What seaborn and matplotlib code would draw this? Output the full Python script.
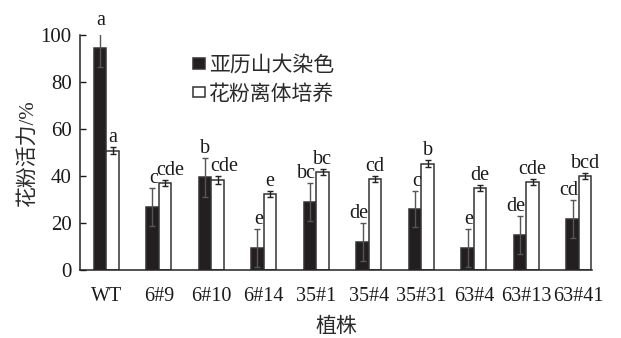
import numpy as np
import pandas as pd
import seaborn as sns
import matplotlib.pyplot as plt

# Pollen viability of wild type and transgenic lines, two methods
lines = ["WT", "6#9", "6#10", "6#14", "35#1", "35#4", "35#31", "63#4", "63#13", "63#41"]
methods = ["亚历山大染色", "花粉离体培养"]
stain = [94.3, 26.7, 39.4, 9.4, 28.9, 11.9, 26.0, 9.4, 14.9, 21.7]
stain_err = [8.0, 8.0, 8.3, 8.0, 8.0, 8.0, 7.8, 8.0, 8.0, 8.0]
culture = [50.8, 37.0, 38.3, 32.3, 41.8, 38.7, 45.2, 35.0, 37.4, 40.0]
culture_err = [1.4, 1.4, 1.5, 1.4, 1.3, 1.3, 1.4, 1.3, 1.3, 1.3]
stain_letters = ["a", "c", "b", "e", "bc", "de", "c", "e", "de", "cd"]
culture_letters = ["a", "cde", "cde", "e", "bc", "cd", "b", "de", "cde", "bcd"]

df = pd.DataFrame({
    "株系": lines * 2,
    "方法": [methods[0]] * len(lines) + [methods[1]] * len(lines),
    "活力": stain + culture,
})

sns.set_theme(style="ticks")
serif = ["Liberation Serif", "Noto Sans CJK SC"]
plt.rcParams["font.family"] = serif
plt.rcParams["axes.unicode_minus"] = False

fig = plt.figure(figsize=(6.21, 3.38), dpi=100)
ax = fig.add_axes([80 / 621, 1 - 270 / 338, 512 / 621, 235 / 338])

sns.barplot(data=df, x="株系", y="活力", hue="方法", order=lines, hue_order=methods,
            palette=["#231f20", "white"], width=0.48, errorbar=None,
            edgecolor="#333333", linewidth=1.1, saturation=1, ax=ax)

errs = [stain_err, culture_err]
labels = [stain_letters, culture_letters]
err_colors = ["#555555", "#222222"]
# significance letters: right-aligned over the dark bars, centred over the light bars
# (the two crowded "cde" labels nudged right a little)
nudge = {(1, 1): 4, (1, 2): 5}
for k, cont in enumerate(ax.containers[:2]):
    bars = list(cont)
    xs = [b.get_x() + b.get_width() / 2 for b in bars]
    ys = [b.get_height() for b in bars]
    ax.errorbar(xs, ys, yerr=errs[k], fmt="none", ecolor=err_colors[k],
                elinewidth=1.0, capsize=2.2, capthick=1.0, zorder=5)
    for i, (b, y, e, t) in enumerate(zip(bars, ys, errs[k], labels[k])):
        if k == 0:
            x, ha, dx = b.get_x() + b.get_width(), "right", -0.5
        else:
            x, ha, dx = b.get_x() + b.get_width() / 2, "center", nudge.get((k, i), 0)
        ax.annotate(t, (x, y + e), xytext=(dx, 0), textcoords="offset points",
                    ha=ha, va="bottom", fontsize=14.5, color="#1a1a1a",
                    family=serif, annotation_clip=False)

ax.set_ylim(0, 100)
ax.set_xlim(-0.5, 9.25)
ax.set_yticks([0, 20, 40, 60, 80, 100])
ax.tick_params(axis="y", direction="in", length=4, width=1, pad=6,
               labelsize=15, colors="#1a1a1a")
ax.tick_params(axis="x", length=0, pad=12, labelsize=14.5, colors="#1a1a1a")
for s in ["top", "right"]:
    ax.spines[s].set_visible(False)
for s in ["left", "bottom"]:
    ax.spines[s].set_linewidth(1.1)
    ax.spines[s].set_color("#222222")

ax.set_xlabel("植株", fontsize=15, labelpad=9, color="#2a2a2a")
ax.set_ylabel("花粉活力/%", fontsize=15, labelpad=2, color="#2a2a2a")

handles, hl = ax.get_legend_handles_labels()
leg = ax.legend(handles, hl, loc="upper left", bbox_to_anchor=(0.205, 0.945),
                frameon=False, fontsize=15, handlelength=0.55, handleheight=0.4,
                handletextpad=0.2, labelspacing=0.42, borderaxespad=0)
for txt in leg.get_texts():
    txt.set_color("#2a2a2a")

fig.savefig("out.png", dpi=100)
